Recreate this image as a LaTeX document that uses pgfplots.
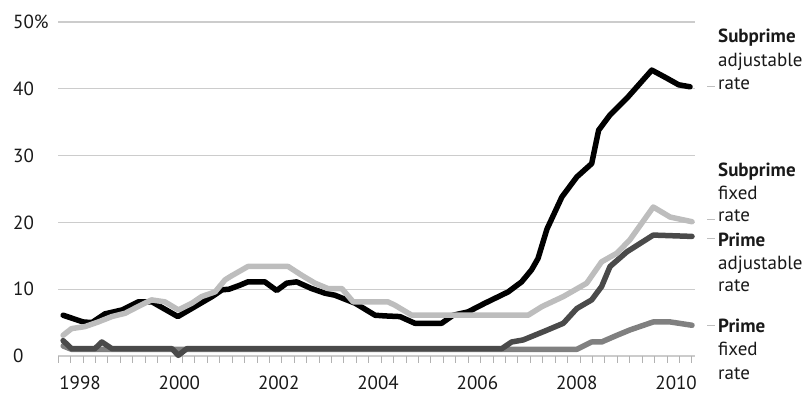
\documentclass[border=0pt]{standalone}
\usepackage{pgfplots}
\pgfplotsset{compat=1.18}
\usepackage{fontspec}
\setmainfont{PT Sans}
\definecolor{sfix}{HTML}{BDBDBD}
\definecolor{padj}{HTML}{4A4A4A}
\definecolor{pfix}{HTML}{808080}
\begin{document}
\begin{tikzpicture}[x=1pt,y=1pt]
\useasboundingbox (0,0) rectangle (807,395);
\begin{axis}[at={(58pt,39pt)}, anchor=south west, scale only axis,
 width=637pt, height=334pt,
 xmin=1997.557, xmax=2010.38, ymin=0, ymax=50, clip=false,
 axis line style={draw=none},
 xtick={1998,2000,...,2010}, xticklabels={1998,2000,2002,2004,2006,2008,2010},
 minor xtick={1997.56,1997.81,...,2010.32},
 ytick={0,10,...,50}, yticklabels={0,10,20,30,40,50\%},
 xtick pos=bottom, ytick pos=left, tick align=outside,
 major tick length=0pt, minor tick length=7pt,
 minor tick style={gray!60, line width=0.8pt},
 ymajorgrids, major grid style={gray!40, line width=1.3pt},
 tick label style={font=\fontsize{19pt}{23pt}\selectfont, text=black!90},
 /pgf/number format/assume math mode=true,
 yticklabel style={anchor=west, inner sep=0pt, xshift=-45pt},
 xticklabel style={anchor=north, inner sep=0pt, yshift=-20pt},
 every axis plot/.append style={line width=5.5pt, line join=round, line cap=round},
]
% Prime fixed rate
\addplot[pfix] coordinates {
(1997.66,1.5) (1997.83,1.0) (2008.00,1.0) (2008.30,2.1) (2008.50,2.1)
(2008.81,3.1) (2009.07,3.9) (2009.54,5.1) (2009.88,5.1) (2010.32,4.6)};
% Prime adjustable rate
\addplot[padj] coordinates {
(1997.66,2.3) (1997.83,1.1) (1998.30,1.1) (1998.44,2.1) (1998.64,1.1)
(1999.85,1.1) (1999.98,0.1) (2000.15,1.1) (2006.49,1.1) (2006.69,2.1)
(2006.92,2.4) (2007.38,3.8) (2007.73,4.9) (2008.00,7.1) (2008.30,8.4)
(2008.50,10.4) (2008.67,13.4) (2009.01,15.6) (2009.54,18.1) (2010.32,17.9)};
% Subprime adjustable rate
\addplot[black] coordinates {
(1997.66,6.1) (1998.06,5.1) (1998.24,5.0) (1998.50,6.3) (1998.85,6.9)
(1999.17,8.1) (1999.45,8.1) (1999.97,5.9) (2000.66,8.9) (2000.86,9.9)
(2001.00,10.0) (2001.22,10.6) (2001.38,11.1) (2001.72,11.1) (2001.96,9.8)
(2002.16,10.9) (2002.36,11.1) (2002.66,10.1) (2002.93,9.4) (2003.13,9.1)
(2003.54,7.9) (2003.94,6.1) (2004.14,6.0) (2004.44,5.9) (2004.74,4.9)
(2005.28,4.9) (2005.51,6.1) (2005.81,6.6) (2006.15,7.9) (2006.62,9.6)
(2006.89,11.1) (2007.09,12.9) (2007.22,14.6) (2007.40,19.0) (2007.70,23.8)
(2008.00,26.8) (2008.30,28.8) (2008.44,33.8) (2008.67,36.1) (2009.01,38.6)
(2009.51,42.8) (2009.81,41.6) (2010.05,40.6) (2010.28,40.3)};
% Subprime fixed rate
\addplot[sfix] coordinates {
(1997.66,3.1) (1997.83,4.1) (1998.10,4.4) (1998.37,5.1) (1998.64,5.9)
(1998.91,6.4) (1999.17,7.4) (1999.44,8.4) (1999.71,8.1) (1999.98,6.9)
(2000.25,7.9) (2000.45,8.9) (2000.72,9.6) (2000.92,11.4) (2001.05,12.0)
(2001.38,13.4) (2002.19,13.4) (2002.46,12.1) (2002.73,10.9) (2002.99,10.1)
(2003.27,10.1) (2003.50,8.1) (2004.20,8.1) (2004.34,7.6) (2004.68,6.1)
(2007.02,6.1) (2007.30,7.4) (2007.73,8.9) (2008.20,10.9) (2008.50,14.1)
(2008.81,15.4) (2009.07,17.4) (2009.54,22.3) (2009.88,20.8) (2010.32,20.1)};
\end{axis}
\begin{scope}[every node/.style={anchor=base west, inner sep=0pt, font=\fontsize{19pt}{23pt}\selectfont, text=black!90}]
\node at (718,352) {\textbf{Subprime}};
\node at (718,328) {adjustable};
\node at (718,305) {rate};
\node at (718,218) {\textbf{Subprime}};
\node at (718,195) {fixed};
\node at (718,173) {rate};
\node at (718,148) {\textbf{Prime}};
\node at (718,125) {adjustable};
\node at (718,103) {rate};
\node at (718,62) {\textbf{Prime}};
\node at (718,39) {fixed};
\node at (718,15) {rate};
\end{scope}
\draw[gray!50, line width=1pt] (707,308) -- (715,308);
\draw[gray!50, line width=1pt] (707,175) -- (715,175);
\draw[gray!50, line width=1pt] (707,156) -- (715,156);
\draw[gray!50, line width=1pt] (707,69) -- (715,69);
\end{tikzpicture}
\end{document}
